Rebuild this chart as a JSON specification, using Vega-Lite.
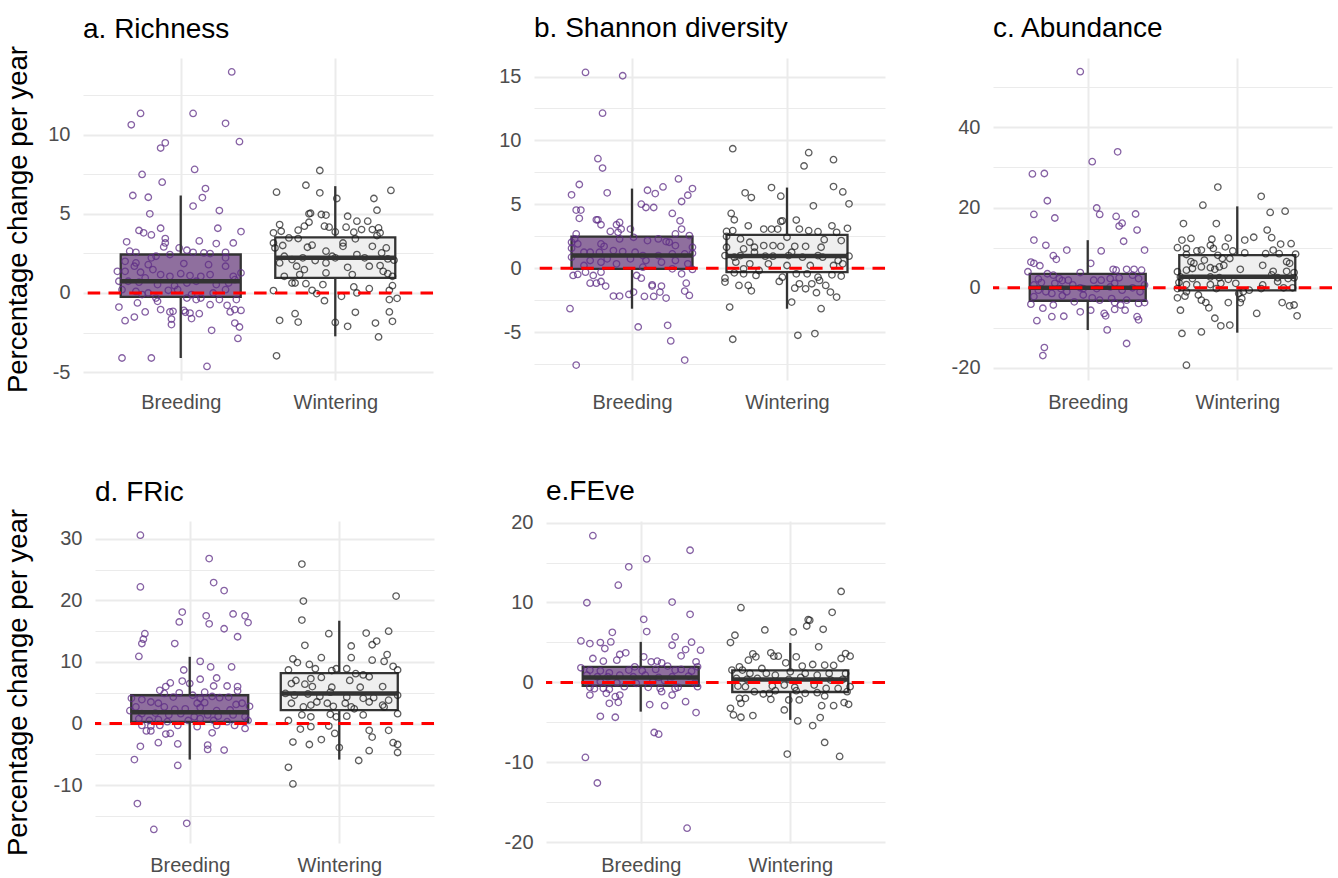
{
"$schema": "https://vega.github.io/schema/vega-lite/v6.json",
"background": "white",
"padding": {"left": 3, "top": 15, "right": 2, "bottom": 2},
"spacing": 57,
"datasets": {
"box": [
{"p":"a","g":"Breeding","x":1,"q1":-0.25,"med":0.74,"q3":2.43,"lo":-4.11,"hi":6.16},
{"p":"a","g":"Wintering","x":2,"q1":0.95,"med":2.22,"q3":3.52,"lo":-2.74,"hi":6.75},
{"p":"b","g":"Breeding","x":1,"q1":-0.05,"med":0.99,"q3":2.47,"lo":-3.17,"hi":6.23},
{"p":"b","g":"Wintering","x":2,"q1":-0.31,"med":0.96,"q3":2.6,"lo":-3.17,"hi":6.31},
{"p":"c","g":"Breeding","x":1,"q1":-3.24,"med":0.0,"q3":3.49,"lo":-10.54,"hi":11.87},
{"p":"c","g":"Wintering","x":2,"q1":-0.66,"med":2.74,"q3":8.13,"lo":-11.2,"hi":20.3},
{"p":"d","g":"Breeding","x":1,"q1":0.27,"med":1.84,"q3":4.6,"lo":-5.85,"hi":10.84},
{"p":"d","g":"Wintering","x":2,"q1":2.17,"med":4.88,"q3":8.18,"lo":-5.85,"hi":16.7},
{"p":"e","g":"Breeding","x":1,"q1":-0.42,"med":0.62,"q3":1.95,"lo":-3.66,"hi":5.07},
{"p":"e","g":"Wintering","x":2,"q1":-1.2,"med":0.37,"q3":1.5,"lo":-4.69,"hi":4.94}
],
"aB": [{"x":1.33,"y":13.97},{"x":0.74,"y":11.35},{"x":0.68,"y":10.63},{"x":1.08,"y":11.35},{"x":1.29,"y":10.72},{"x":0.90,"y":9.49},{"x":0.87,"y":9.16},{"x":1.38,"y":9.56},{"x":0.75,"y":7.49},{"x":1.09,"y":7.81},{"x":0.88,"y":7.0},{"x":0.69,"y":6.16},{"x":0.79,"y":6.05},{"x":1.16,"y":6.6},{"x":1.14,"y":6.03},{"x":0.80,"y":5.0},{"x":1.08,"y":5.49},{"x":1.25,"y":5.21},{"x":0.73,"y":3.95},{"x":0.76,"y":3.8},{"x":0.81,"y":3.67},{"x":0.87,"y":4.09},{"x":1.24,"y":4.09},{"x":1.39,"y":3.88},{"x":0.90,"y":3.44},{"x":0.90,"y":3.16},{"x":0.89,"y":2.91},{"x":0.65,"y":3.23},{"x":1.12,"y":3.29},{"x":1.23,"y":3.12},{"x":1.34,"y":3.16},{"x":0.99,"y":2.85},{"x":0.71,"y":2.57},{"x":0.67,"y":2.64},{"x":0.84,"y":2.32},{"x":0.81,"y":2.22},{"x":0.93,"y":2.43},{"x":1.04,"y":2.7},{"x":1.08,"y":2.57},{"x":1.15,"y":2.53},{"x":1.19,"y":2.49},{"x":1.29,"y":2.57},{"x":1.29,"y":2.22},{"x":0.64,"y":2.0},{"x":0.71,"y":1.9},{"x":0.79,"y":1.79},{"x":0.70,"y":1.69},{"x":1.02,"y":1.86},{"x":1.18,"y":1.79},{"x":1.29,"y":1.69},{"x":0.64,"y":1.37},{"x":0.74,"y":1.31},{"x":0.82,"y":1.48},{"x":0.87,"y":1.16},{"x":0.93,"y":1.05},{"x":1.0,"y":1.22},{"x":1.06,"y":1.10},{"x":1.13,"y":1.05},{"x":1.19,"y":1.16},{"x":1.34,"y":1.05},{"x":0.59,"y":1.37},{"x":0.60,"y":0.74},{"x":0.66,"y":0.74},{"x":0.73,"y":0.68},{"x":0.77,"y":0.95},{"x":0.85,"y":0.53},{"x":0.96,"y":0.46},{"x":1.04,"y":0.63},{"x":1.10,"y":0.74},{"x":1.23,"y":0.53},{"x":1.31,"y":0.63},{"x":1.35,"y":0.84},{"x":1.39,"y":1.27},{"x":0.62,"y":0.21},{"x":0.71,"y":0.1},{"x":0.79,"y":0.0},{"x":0.92,"y":0.17},{"x":0.98,"y":0.21},{"x":1.07,"y":-0.1},{"x":1.13,"y":-0.32},{"x":1.21,"y":0.0},{"x":1.29,"y":0.21},{"x":0.75,"y":-0.1},{"x":0.85,"y":-0.53},{"x":0.84,"y":-0.32},{"x":1.04,"y":-0.32},{"x":1.10,"y":-0.42},{"x":1.19,"y":-0.74},{"x":1.25,"y":-0.42},{"x":1.36,"y":-0.42},{"x":0.60,"y":-0.89},{"x":0.72,"y":-0.63},{"x":0.77,"y":-1.2},{"x":0.87,"y":-1.05},{"x":0.93,"y":-1.2},{"x":0.95,"y":-1.16},{"x":1.02,"y":-1.1},{"x":1.03,"y":-1.22},{"x":1.06,"y":-1.27},{"x":1.12,"y":-1.31},{"x":1.30,"y":-0.78},{"x":1.32,"y":-1.2},{"x":1.35,"y":-1.05},{"x":1.39,"y":-1.1},{"x":0.70,"y":-1.52},{"x":0.64,"y":-1.75},{"x":0.94,"y":-1.65},{"x":0.94,"y":-2.0},{"x":1.07,"y":-1.62},{"x":1.35,"y":-1.9},{"x":1.38,"y":-2.15},{"x":1.20,"y":-2.36},{"x":1.37,"y":-2.87},{"x":0.62,"y":-4.11},{"x":0.81,"y":-4.11},{"x":1.17,"y":-4.64}],
"aW": [{"x":1.90,"y":7.74},{"x":1.81,"y":6.81},{"x":1.62,"y":6.37},{"x":1.90,"y":6.33},{"x":2.36,"y":6.48},{"x":2.01,"y":5.97},{"x":2.25,"y":5.97},{"x":2.27,"y":5.23},{"x":1.83,"y":5.0},{"x":1.84,"y":5.04},{"x":1.91,"y":4.96},{"x":1.94,"y":4.92},{"x":2.08,"y":4.85},{"x":2.14,"y":4.54},{"x":2.21,"y":4.54},{"x":1.64,"y":4.32},{"x":1.83,"y":4.47},{"x":1.93,"y":4.22},{"x":1.96,"y":4.16},{"x":2.07,"y":4.16},{"x":2.28,"y":4.11},{"x":1.60,"y":3.8},{"x":1.65,"y":3.9},{"x":1.76,"y":3.97},{"x":1.80,"y":4.22},{"x":2.0,"y":3.86},{"x":2.12,"y":3.84},{"x":2.17,"y":4.01},{"x":2.24,"y":4.01},{"x":2.29,"y":3.8},{"x":1.70,"y":3.48},{"x":1.76,"y":3.44},{"x":2.05,"y":3.16},{"x":2.13,"y":3.42},{"x":2.27,"y":3.63},{"x":1.60,"y":3.16},{"x":1.61,"y":2.85},{"x":1.66,"y":3.0},{"x":1.82,"y":2.89},{"x":1.85,"y":3.02},{"x":1.94,"y":2.64},{"x":2.05,"y":2.95},{"x":2.24,"y":2.95},{"x":2.33,"y":2.85},{"x":2.30,"y":2.53},{"x":1.67,"y":2.32},{"x":1.72,"y":2.11},{"x":1.79,"y":2.22},{"x":1.87,"y":2.05},{"x":1.98,"y":2.32},{"x":2.00,"y":2.22},{"x":2.14,"y":2.43},{"x":2.19,"y":2.22},{"x":2.34,"y":2.15},{"x":2.38,"y":2.07},{"x":1.64,"y":1.9},{"x":1.75,"y":1.69},{"x":1.80,"y":1.48},{"x":1.94,"y":1.9},{"x":2.08,"y":1.62},{"x":2.22,"y":1.69},{"x":2.29,"y":1.73},{"x":2.31,"y":1.37},{"x":1.67,"y":1.05},{"x":1.72,"y":0.63},{"x":1.77,"y":1.16},{"x":1.94,"y":1.27},{"x":2.11,"y":1.16},{"x":2.34,"y":1.22},{"x":2.37,"y":1.05},{"x":1.74,"y":0.63},{"x":1.81,"y":0.59},{"x":1.92,"y":0.53},{"x":2.12,"y":0.38},{"x":2.22,"y":0.27},{"x":2.37,"y":0.46},{"x":1.60,"y":0.15},{"x":1.85,"y":0.17},{"x":1.88,"y":-0.04},{"x":2.04,"y":-0.21},{"x":2.14,"y":0.0},{"x":2.35,"y":0.17},{"x":1.93,"y":-0.49},{"x":2.35,"y":-0.42},{"x":2.40,"y":-0.34},{"x":1.74,"y":-1.31},{"x":2.13,"y":-1.22},{"x":2.35,"y":-1.2},{"x":1.64,"y":-1.73},{"x":1.76,"y":-1.84},{"x":2.0,"y":-1.86},{"x":2.26,"y":-1.9},{"x":2.37,"y":-1.79},{"x":2.08,"y":-2.11},{"x":2.28,"y":-2.78},{"x":1.62,"y":-3.97}],
"bB": [{"x":0.70,"y":15.32},{"x":0.94,"y":15.06},{"x":0.81,"y":12.13},{"x":0.78,"y":8.57},{"x":0.81,"y":7.84},{"x":0.84,"y":5.9},{"x":0.66,"y":6.55},{"x":0.61,"y":5.74},{"x":1.30,"y":6.99},{"x":1.39,"y":6.23},{"x":1.20,"y":6.36},{"x":1.10,"y":6.1},{"x":1.15,"y":5.84},{"x":1.36,"y":5.71},{"x":1.32,"y":5.22},{"x":1.06,"y":5.01},{"x":1.09,"y":4.75},{"x":1.14,"y":4.75},{"x":0.64,"y":4.55},{"x":0.67,"y":4.55},{"x":1.26,"y":4.29},{"x":0.66,"y":3.9},{"x":0.77,"y":3.79},{"x":0.78,"y":3.79},{"x":0.80,"y":3.4},{"x":0.92,"y":3.58},{"x":0.90,"y":3.4},{"x":1.31,"y":3.71},{"x":0.93,"y":3.06},{"x":0.99,"y":3.06},{"x":1.32,"y":3.06},{"x":0.86,"y":2.88},{"x":0.91,"y":2.81},{"x":1.28,"y":2.68},{"x":1.37,"y":2.55},{"x":0.64,"y":2.68},{"x":0.63,"y":2.29},{"x":0.61,"y":2.03},{"x":0.65,"y":1.9},{"x":0.80,"y":1.9},{"x":0.82,"y":1.71},{"x":0.92,"y":2.29},{"x":1.01,"y":2.42},{"x":1.10,"y":2.16},{"x":1.17,"y":2.29},{"x":1.22,"y":2.08},{"x":1.24,"y":2.03},{"x":1.28,"y":1.77},{"x":1.39,"y":1.64},{"x":0.61,"y":1.56},{"x":0.69,"y":1.25},{"x":0.73,"y":1.25},{"x":0.79,"y":1.25},{"x":0.88,"y":1.38},{"x":0.94,"y":1.3},{"x":1.02,"y":1.25},{"x":1.07,"y":0.99},{"x":1.17,"y":0.99},{"x":1.26,"y":1.12},{"x":1.34,"y":1.12},{"x":1.39,"y":1.17},{"x":0.61,"y":0.86},{"x":0.73,"y":0.6},{"x":0.80,"y":0.47},{"x":0.84,"y":0.73},{"x":0.90,"y":0.34},{"x":0.99,"y":0.73},{"x":1.09,"y":0.6},{"x":1.19,"y":0.47},{"x":1.28,"y":0.6},{"x":1.36,"y":0.34},{"x":0.69,"y":0.21},{"x":1.07,"y":0.08},{"x":1.26,"y":-0.05},{"x":1.39,"y":-0.1},{"x":0.62,"y":-0.57},{"x":0.65,"y":-0.49},{"x":0.70,"y":-0.31},{"x":0.80,"y":-0.31},{"x":0.75,"y":-0.57},{"x":1.03,"y":-0.57},{"x":1.06,"y":-0.78},{"x":1.32,"y":-0.44},{"x":0.73,"y":-1.17},{"x":0.77,"y":-1.17},{"x":0.80,"y":-1.04},{"x":0.83,"y":-1.4},{"x":1.13,"y":-1.3},{"x":1.13,"y":-1.4},{"x":1.19,"y":-1.4},{"x":1.35,"y":-1.17},{"x":1.18,"y":-1.87},{"x":1.34,"y":-1.79},{"x":1.37,"y":-2.13},{"x":0.88,"y":-2.18},{"x":0.92,"y":-2.18},{"x":0.98,"y":-2.05},{"x":1.01,"y":-1.87},{"x":1.08,"y":-2.21},{"x":1.14,"y":-2.21},{"x":1.22,"y":-2.34},{"x":0.60,"y":-3.17},{"x":1.04,"y":-4.6},{"x":1.23,"y":-4.47},{"x":1.25,"y":-5.69},{"x":1.34,"y":-7.19},{"x":0.64,"y":-7.58}],
"bW": [{"x":1.65,"y":9.35},{"x":2.14,"y":9.04},{"x":2.11,"y":8.0},{"x":2.30,"y":8.49},{"x":1.90,"y":6.31},{"x":2.30,"y":6.39},{"x":2.36,"y":5.97},{"x":1.96,"y":5.64},{"x":1.73,"y":5.9},{"x":1.77,"y":5.53},{"x":2.17,"y":4.88},{"x":2.40,"y":5.04},{"x":1.64,"y":4.29},{"x":1.66,"y":3.79},{"x":1.96,"y":3.66},{"x":1.97,"y":3.71},{"x":2.06,"y":3.77},{"x":2.29,"y":3.32},{"x":1.75,"y":3.32},{"x":1.61,"y":2.88},{"x":1.65,"y":2.94},{"x":1.85,"y":3.06},{"x":1.90,"y":3.06},{"x":1.94,"y":3.06},{"x":2.08,"y":3.06},{"x":2.14,"y":2.94},{"x":2.20,"y":2.86},{"x":2.39,"y":3.12},{"x":2.32,"y":2.81},{"x":2.0,"y":2.42},{"x":2.24,"y":2.23},{"x":2.35,"y":2.16},{"x":1.61,"y":2.49},{"x":1.70,"y":2.29},{"x":1.76,"y":2.03},{"x":1.79,"y":1.64},{"x":1.85,"y":1.77},{"x":1.91,"y":1.77},{"x":1.96,"y":1.71},{"x":2.05,"y":1.71},{"x":2.12,"y":1.71},{"x":2.22,"y":1.64},{"x":1.61,"y":1.64},{"x":1.72,"y":1.51},{"x":1.79,"y":1.25},{"x":2.03,"y":1.25},{"x":2.20,"y":0.99},{"x":2.40,"y":0.94},{"x":1.60,"y":0.99},{"x":1.66,"y":0.86},{"x":1.70,"y":0.99},{"x":1.86,"y":0.94},{"x":1.91,"y":0.94},{"x":2.01,"y":0.99},{"x":2.10,"y":0.86},{"x":2.23,"y":0.86},{"x":2.33,"y":0.6},{"x":1.67,"y":0.47},{"x":1.76,"y":0.34},{"x":1.88,"y":0.34},{"x":2.0,"y":0.21},{"x":2.15,"y":0.21},{"x":2.30,"y":0.21},{"x":2.36,"y":0.34},{"x":1.72,"y":-0.05},{"x":1.82,"y":-0.18},{"x":1.66,"y":-0.36},{"x":1.72,"y":-0.44},{"x":1.80,"y":-0.57},{"x":2.06,"y":-0.44},{"x":2.13,"y":-0.44},{"x":2.20,"y":-0.7},{"x":2.29,"y":-0.52},{"x":2.35,"y":-0.62},{"x":1.97,"y":-0.7},{"x":1.60,"y":-0.78},{"x":1.60,"y":-1.09},{"x":1.69,"y":-1.35},{"x":1.75,"y":-1.35},{"x":1.77,"y":-1.77},{"x":1.95,"y":-1.04},{"x":2.08,"y":-1.22},{"x":2.05,"y":-1.56},{"x":2.12,"y":-1.61},{"x":2.16,"y":-1.22},{"x":2.21,"y":-0.96},{"x":2.25,"y":-1.35},{"x":2.19,"y":-1.92},{"x":2.28,"y":-1.87},{"x":2.32,"y":-2.26},{"x":2.03,"y":-2.65},{"x":1.63,"y":-3.04},{"x":2.22,"y":-3.17},{"x":1.65,"y":-5.56},{"x":2.07,"y":-5.25},{"x":2.18,"y":-5.12}],
"cB": [{"x":0.95,"y":53.9},{"x":1.20,"y":33.9},{"x":1.03,"y":31.45},{"x":0.63,"y":28.4},{"x":0.71,"y":28.5},{"x":0.73,"y":21.7},{"x":0.64,"y":18.3},{"x":0.78,"y":17.4},{"x":1.06,"y":19.9},{"x":1.08,"y":18.3},{"x":1.19,"y":17.8},{"x":1.32,"y":18.4},{"x":1.23,"y":16.1},{"x":1.21,"y":15.4},{"x":1.33,"y":14.4},{"x":0.64,"y":11.9},{"x":0.72,"y":10.6},{"x":1.24,"y":11.6},{"x":0.86,"y":9.4},{"x":1.09,"y":9.2},{"x":1.38,"y":9.4},{"x":0.77,"y":8.0},{"x":0.79,"y":7.1},{"x":0.62,"y":6.4},{"x":0.64,"y":6.1},{"x":0.68,"y":5.5},{"x":0.60,"y":4.0},{"x":1.02,"y":6.1},{"x":0.95,"y":3.8},{"x":1.17,"y":4.6},{"x":1.19,"y":4.4},{"x":1.26,"y":4.6},{"x":1.31,"y":4.6},{"x":1.36,"y":4.4},{"x":0.73,"y":3.5},{"x":0.77,"y":3.15},{"x":0.81,"y":2.3},{"x":0.83,"y":1.8},{"x":0.67,"y":2.2},{"x":0.69,"y":1.3},{"x":0.64,"y":0.7},{"x":0.78,"y":1.1},{"x":0.87,"y":1.9},{"x":0.90,"y":0.7},{"x":0.95,"y":0.0},{"x":1.04,"y":1.9},{"x":1.09,"y":1.9},{"x":1.15,"y":2.3},{"x":1.21,"y":2.5},{"x":1.18,"y":1.1},{"x":1.30,"y":3.15},{"x":1.34,"y":2.3},{"x":1.38,"y":0.7},{"x":0.67,"y":-0.6},{"x":0.72,"y":-1.0},{"x":0.82,"y":-0.2},{"x":0.86,"y":-1.0},{"x":0.97,"y":-0.2},{"x":1.06,"y":-0.2},{"x":1.15,"y":0.2},{"x":1.23,"y":-0.6},{"x":1.30,"y":0.0},{"x":1.35,"y":-1.0},{"x":0.64,"y":-2.2},{"x":0.76,"y":-1.4},{"x":0.83,"y":-2.0},{"x":0.91,"y":-3.5},{"x":0.97,"y":-1.8},{"x":1.03,"y":-2.5},{"x":1.08,"y":-3.1},{"x":1.16,"y":-2.7},{"x":1.18,"y":-3.7},{"x":1.22,"y":-4.3},{"x":1.26,"y":-3.1},{"x":1.34,"y":-3.9},{"x":1.38,"y":-3.7},{"x":0.62,"y":-4.1},{"x":0.70,"y":-5.1},{"x":0.77,"y":-4.3},{"x":0.95,"y":-6.0},{"x":1.02,"y":-5.6},{"x":1.11,"y":-6.4},{"x":1.12,"y":-7.0},{"x":1.25,"y":-5.6},{"x":1.18,"y":-5.4},{"x":0.76,"y":-7.2},{"x":0.84,"y":-7.1},{"x":0.66,"y":-8.2},{"x":1.33,"y":-7.2},{"x":1.34,"y":-8.0},{"x":1.13,"y":-10.5},{"x":1.26,"y":-13.9},{"x":0.71,"y":-14.9},{"x":0.70,"y":-16.9}],
"cW": [{"x":1.66,"y":-19.3},{"x":1.87,"y":25.1},{"x":2.16,"y":22.8},{"x":1.77,"y":20.6},{"x":2.22,"y":18.8},{"x":2.32,"y":19.1},{"x":1.64,"y":16.0},{"x":1.86,"y":16.0},{"x":2.20,"y":14.4},{"x":1.63,"y":11.9},{"x":1.69,"y":12.3},{"x":1.83,"y":12.1},{"x":1.94,"y":12.4},{"x":2.05,"y":11.9},{"x":2.11,"y":12.6},{"x":2.23,"y":12.5},{"x":2.29,"y":10.9},{"x":2.36,"y":11.0},{"x":1.60,"y":10.0},{"x":1.66,"y":9.8},{"x":1.73,"y":9.2},{"x":1.76,"y":9.4},{"x":1.82,"y":10.6},{"x":1.84,"y":9.8},{"x":1.92,"y":10.2},{"x":1.97,"y":9.2},{"x":2.05,"y":8.7},{"x":2.19,"y":8.5},{"x":2.24,"y":9.4},{"x":2.28,"y":8.5},{"x":2.39,"y":8.4},{"x":1.66,"y":8.3},{"x":1.69,"y":6.5},{"x":1.71,"y":6.1},{"x":1.78,"y":6.9},{"x":1.90,"y":7.3},{"x":1.95,"y":7.3},{"x":1.87,"y":8.1},{"x":2.33,"y":6.5},{"x":2.35,"y":6.1},{"x":1.60,"y":4.0},{"x":1.66,"y":4.4},{"x":1.70,"y":4.8},{"x":1.76,"y":5.2},{"x":1.82,"y":5.0},{"x":1.85,"y":4.6},{"x":1.88,"y":5.2},{"x":1.91,"y":5.6},{"x":2.02,"y":4.6},{"x":2.17,"y":5.6},{"x":2.24,"y":4.1},{"x":2.33,"y":4.1},{"x":2.38,"y":3.8},{"x":1.62,"y":2.7},{"x":1.70,"y":2.3},{"x":1.82,"y":2.7},{"x":1.88,"y":2.5},{"x":1.94,"y":2.1},{"x":2.23,"y":3.2},{"x":2.27,"y":2.5},{"x":2.34,"y":2.3},{"x":2.38,"y":2.5},{"x":1.61,"y":1.3},{"x":1.66,"y":0.8},{"x":1.73,"y":0.7},{"x":1.82,"y":0.8},{"x":1.89,"y":1.1},{"x":1.99,"y":1.1},{"x":2.17,"y":0.7},{"x":2.27,"y":1.5},{"x":2.37,"y":0.0},{"x":1.60,"y":-0.2},{"x":1.66,"y":-1.0},{"x":1.86,"y":-0.2},{"x":2.01,"y":-1.4},{"x":2.04,"y":-1.0},{"x":2.08,"y":-0.6},{"x":2.16,"y":-0.2},{"x":2.31,"y":0.0},{"x":1.60,"y":-2.5},{"x":1.65,"y":-2.1},{"x":1.74,"y":-1.8},{"x":1.76,"y":-3.1},{"x":1.79,"y":-3.7},{"x":2.02,"y":-3.7},{"x":2.03,"y":-2.7},{"x":1.62,"y":-5.6},{"x":1.81,"y":-5.0},{"x":1.94,"y":-3.7},{"x":2.30,"y":-3.7},{"x":2.35,"y":-4.5},{"x":2.38,"y":-4.3},{"x":2.40,"y":-7.0},{"x":2.13,"y":-6.4},{"x":1.85,"y":-7.6},{"x":1.89,"y":-9.5},{"x":1.95,"y":-9.3},{"x":1.63,"y":-11.4},{"x":1.76,"y":-11.0}],
"dB": [{"x":0.67,"y":30.6},{"x":0.67,"y":22.2},{"x":1.13,"y":26.8},{"x":1.16,"y":22.9},{"x":1.23,"y":21.6},{"x":0.95,"y":18.1},{"x":0.93,"y":16.5},{"x":1.11,"y":17.5},{"x":1.13,"y":16.2},{"x":1.29,"y":17.8},{"x":1.37,"y":17.5},{"x":1.39,"y":16.4},{"x":1.23,"y":15.4},{"x":1.32,"y":14.1},{"x":0.70,"y":14.6},{"x":0.69,"y":13.7},{"x":0.68,"y":13.0},{"x":0.90,"y":13.0},{"x":0.66,"y":10.9},{"x":1.07,"y":10.1},{"x":1.14,"y":9.2},{"x":1.28,"y":9.2},{"x":0.96,"y":8.7},{"x":1.18,"y":7.4},{"x":1.07,"y":7.2},{"x":0.95,"y":6.9},{"x":1.00,"y":6.5},{"x":0.87,"y":6.6},{"x":0.84,"y":6.0},{"x":1.25,"y":6.1},{"x":1.32,"y":6.0},{"x":1.16,"y":6.1},{"x":0.80,"y":5.4},{"x":0.83,"y":4.9},{"x":0.93,"y":5.0},{"x":1.10,"y":5.1},{"x":1.32,"y":5.3},{"x":0.61,"y":4.1},{"x":0.68,"y":3.9},{"x":0.74,"y":3.5},{"x":0.89,"y":4.3},{"x":1.02,"y":4.6},{"x":1.07,"y":4.1},{"x":1.15,"y":4.4},{"x":1.20,"y":4.2},{"x":1.26,"y":4.3},{"x":1.05,"y":3.3},{"x":1.10,"y":3.4},{"x":1.31,"y":3.1},{"x":1.35,"y":3.3},{"x":1.40,"y":2.8},{"x":0.60,"y":2.1},{"x":0.64,"y":2.7},{"x":0.79,"y":3.3},{"x":0.83,"y":2.7},{"x":0.90,"y":2.3},{"x":0.97,"y":2.4},{"x":1.07,"y":2.6},{"x":1.18,"y":2.1},{"x":1.27,"y":2.2},{"x":0.68,"y":1.6},{"x":0.77,"y":1.7},{"x":0.86,"y":1.4},{"x":0.94,"y":1.6},{"x":1.03,"y":1.1},{"x":1.12,"y":1.4},{"x":1.19,"y":1.2},{"x":1.29,"y":1.4},{"x":1.37,"y":1.1},{"x":0.66,"y":0.8},{"x":0.73,"y":0.5},{"x":0.79,"y":0.65},{"x":0.85,"y":0.3},{"x":0.99,"y":0.5},{"x":1.07,"y":0.8},{"x":1.16,"y":0.5},{"x":1.25,"y":0.3},{"x":1.39,"y":0.5},{"x":0.68,"y":-0.3},{"x":0.74,"y":-0.4},{"x":0.80,"y":-0.3},{"x":0.92,"y":-0.3},{"x":1.05,"y":-0.5},{"x":1.18,"y":-0.3},{"x":1.30,"y":-0.3},{"x":1.37,"y":-0.8},{"x":0.71,"y":-1.2},{"x":0.74,"y":-1.2},{"x":0.84,"y":-1.7},{"x":0.87,"y":-1.6},{"x":1.15,"y":-1.5},{"x":0.79,"y":-3.1},{"x":0.92,"y":-3.3},{"x":0.67,"y":-3.7},{"x":1.12,"y":-3.5},{"x":1.12,"y":-4.2},{"x":1.23,"y":-4.3},{"x":0.63,"y":-5.85},{"x":0.92,"y":-6.8},{"x":0.65,"y":-13.0},{"x":0.98,"y":-16.2},{"x":0.76,"y":-17.2}],
"dW": [{"x":1.75,"y":25.9},{"x":1.76,"y":19.9},{"x":1.75,"y":16.8},{"x":2.38,"y":20.7},{"x":1.93,"y":14.6},{"x":2.18,"y":14.7},{"x":2.33,"y":15.0},{"x":2.25,"y":13.4},{"x":2.22,"y":12.8},{"x":1.77,"y":12.7},{"x":2.08,"y":12.6},{"x":2.32,"y":11.2},{"x":1.69,"y":10.5},{"x":1.88,"y":10.7},{"x":2.08,"y":10.7},{"x":2.22,"y":10.3},{"x":2.30,"y":10.1},{"x":2.36,"y":9.3},{"x":1.66,"y":8.7},{"x":1.72,"y":9.9},{"x":1.80,"y":9.6},{"x":1.84,"y":8.9},{"x":1.95,"y":8.6},{"x":1.98,"y":8.9},{"x":2.05,"y":8.9},{"x":2.11,"y":8.1},{"x":2.16,"y":7.9},{"x":2.20,"y":7.6},{"x":2.39,"y":8.7},{"x":1.71,"y":7.0},{"x":1.81,"y":7.3},{"x":1.88,"y":7.5},{"x":2.07,"y":7.0},{"x":1.68,"y":6.5},{"x":1.77,"y":6.4},{"x":1.82,"y":6.0},{"x":1.95,"y":5.9},{"x":2.14,"y":5.9},{"x":2.29,"y":6.0},{"x":1.64,"y":4.9},{"x":1.70,"y":4.6},{"x":1.79,"y":4.8},{"x":1.87,"y":4.4},{"x":1.94,"y":5.1},{"x":2.05,"y":4.3},{"x":2.16,"y":4.1},{"x":2.23,"y":4.2},{"x":2.33,"y":3.8},{"x":2.39,"y":4.6},{"x":1.68,"y":3.3},{"x":1.81,"y":3.0},{"x":1.85,"y":3.5},{"x":1.92,"y":3.3},{"x":2.04,"y":3.3},{"x":2.20,"y":3.5},{"x":2.29,"y":3.0},{"x":1.76,"y":2.7},{"x":1.96,"y":2.8},{"x":2.08,"y":2.7},{"x":2.10,"y":2.4},{"x":2.30,"y":2.7},{"x":1.75,"y":1.4},{"x":1.81,"y":1.1},{"x":1.94,"y":1.5},{"x":1.98,"y":1.1},{"x":2.05,"y":1.2},{"x":2.16,"y":1.4},{"x":2.39,"y":1.6},{"x":1.66,"y":0.5},{"x":1.93,"y":-0.4},{"x":1.74,"y":-0.9},{"x":1.81,"y":-0.5},{"x":1.97,"y":-1.6},{"x":2.20,"y":-1.1},{"x":2.33,"y":-1.1},{"x":2.22,"y":-2.2},{"x":1.88,"y":-2.6},{"x":1.69,"y":-3.0},{"x":1.80,"y":-3.4},{"x":2.0,"y":-3.9},{"x":2.36,"y":-3.1},{"x":2.39,"y":-3.4},{"x":2.39,"y":-4.7},{"x":2.20,"y":-4.4},{"x":2.13,"y":-6.0},{"x":1.66,"y":-7.1},{"x":1.69,"y":-9.8}],
"eB": [{"x":0.68,"y":18.36},{"x":1.33,"y":16.54},{"x":1.04,"y":15.45},{"x":0.92,"y":14.46},{"x":0.85,"y":12.17},{"x":0.64,"y":9.97},{"x":1.21,"y":10.05},{"x":1.33,"y":8.52},{"x":1.02,"y":7.89},{"x":1.04,"y":6.36},{"x":0.81,"y":6.27},{"x":1.23,"y":5.69},{"x":0.60,"y":5.19},{"x":0.66,"y":4.86},{"x":0.73,"y":4.99},{"x":0.80,"y":5.07},{"x":1.34,"y":5.03},{"x":1.21,"y":4.65},{"x":0.76,"y":4.24},{"x":1.30,"y":4.11},{"x":1.40,"y":4.03},{"x":0.90,"y":3.7},{"x":0.86,"y":3.49},{"x":0.84,"y":2.78},{"x":1.02,"y":3.2},{"x":1.27,"y":3.32},{"x":0.68,"y":2.99},{"x":0.75,"y":2.66},{"x":1.07,"y":2.58},{"x":1.11,"y":2.66},{"x":1.14,"y":2.45},{"x":1.37,"y":2.58},{"x":0.60,"y":1.83},{"x":0.66,"y":1.54},{"x":0.73,"y":1.45},{"x":0.79,"y":1.2},{"x":0.92,"y":1.54},{"x":0.96,"y":1.95},{"x":1.01,"y":1.45},{"x":1.10,"y":1.62},{"x":1.18,"y":2.04},{"x":1.23,"y":1.54},{"x":1.27,"y":1.62},{"x":1.34,"y":1.41},{"x":1.38,"y":1.95},{"x":0.64,"y":0.91},{"x":0.71,"y":0.71},{"x":0.78,"y":0.71},{"x":0.86,"y":0.91},{"x":0.95,"y":0.71},{"x":1.03,"y":0.91},{"x":1.12,"y":0.62},{"x":1.21,"y":0.71},{"x":1.32,"y":0.79},{"x":0.73,"y":0.08},{"x":0.84,"y":-0.04},{"x":0.97,"y":-0.12},{"x":1.08,"y":0.08},{"x":1.16,"y":0.21},{"x":1.36,"y":-0.12},{"x":0.66,"y":-0.62},{"x":0.69,"y":-0.79},{"x":0.75,"y":-0.75},{"x":0.79,"y":-0.87},{"x":0.89,"y":-0.54},{"x":1.05,"y":-0.62},{"x":1.13,"y":-0.75},{"x":1.23,"y":-0.75},{"x":1.25,"y":-0.62},{"x":1.38,"y":-0.54},{"x":0.66,"y":-1.58},{"x":0.77,"y":-1.37},{"x":0.83,"y":-1.79},{"x":0.86,"y":-1.58},{"x":1.14,"y":-1.16},{"x":1.21,"y":-1.58},{"x":0.79,"y":-2.62},{"x":0.85,"y":-2.49},{"x":1.06,"y":-2.78},{"x":1.16,"y":-2.91},{"x":1.30,"y":-2.41},{"x":0.73,"y":-4.24},{"x":0.83,"y":-4.36},{"x":1.37,"y":-3.78},{"x":1.09,"y":-6.27},{"x":1.12,"y":-6.48},{"x":0.63,"y":-9.39},{"x":0.71,"y":-12.59},{"x":1.31,"y":-18.24}],
"eW": [{"x":2.34,"y":11.38},{"x":1.67,"y":9.35},{"x":2.28,"y":8.77},{"x":2.12,"y":7.85},{"x":2.13,"y":7.77},{"x":2.11,"y":7.06},{"x":1.83,"y":6.56},{"x":2.02,"y":6.31},{"x":2.22,"y":6.65},{"x":1.63,"y":5.9},{"x":1.60,"y":4.99},{"x":2.19,"y":4.45},{"x":1.75,"y":3.57},{"x":1.77,"y":3.2},{"x":1.87,"y":3.7},{"x":1.89,"y":3.28},{"x":1.92,"y":3.28},{"x":2.04,"y":3.2},{"x":2.37,"y":3.61},{"x":2.40,"y":3.28},{"x":2.34,"y":2.99},{"x":1.72,"y":2.78},{"x":1.81,"y":1.74},{"x":1.97,"y":2.45},{"x":2.08,"y":2.04},{"x":2.15,"y":2.24},{"x":2.23,"y":2.16},{"x":2.29,"y":2.12},{"x":1.61,"y":1.54},{"x":1.66,"y":1.95},{"x":1.68,"y":1.54},{"x":1.73,"y":1.12},{"x":1.84,"y":1.12},{"x":1.90,"y":0.91},{"x":2.0,"y":1.33},{"x":2.10,"y":1.12},{"x":2.18,"y":0.91},{"x":2.26,"y":1.12},{"x":2.37,"y":1.12},{"x":1.64,"y":0.5},{"x":1.71,"y":0.37},{"x":1.78,"y":0.5},{"x":1.99,"y":0.37},{"x":2.07,"y":0.62},{"x":2.27,"y":0.29},{"x":2.35,"y":0.37},{"x":1.65,"y":-0.46},{"x":1.70,"y":-0.54},{"x":1.88,"y":-0.46},{"x":1.96,"y":-0.33},{"x":2.03,"y":-0.62},{"x":2.16,"y":-0.33},{"x":2.24,"y":-0.75},{"x":2.32,"y":-0.75},{"x":2.40,"y":-0.54},{"x":1.76,"y":-1.16},{"x":1.82,"y":-1.45},{"x":1.86,"y":-1.37},{"x":1.90,"y":-1.04},{"x":2.04,"y":-1.04},{"x":2.10,"y":-1.37},{"x":2.18,"y":-1.29},{"x":2.23,"y":-1.7},{"x":2.38,"y":-1.16},{"x":1.66,"y":-1.99},{"x":1.70,"y":-1.99},{"x":1.87,"y":-2.12},{"x":1.99,"y":-2.2},{"x":2.06,"y":-2.2},{"x":2.36,"y":-2.53},{"x":2.39,"y":-2.74},{"x":2.29,"y":-2.91},{"x":2.21,"y":-2.91},{"x":1.67,"y":-2.62},{"x":1.60,"y":-3.24},{"x":1.96,"y":-3.45},{"x":1.62,"y":-4.07},{"x":1.67,"y":-4.36},{"x":1.75,"y":-4.15},{"x":2.20,"y":-4.4},{"x":2.05,"y":-4.82},{"x":2.15,"y":-5.4},{"x":2.23,"y":-7.52},{"x":1.98,"y":-8.97},{"x":2.33,"y":-9.26}]
},
"vconcat": [
{"hconcat": [
{"width": 1, "height": 322, "data": {"values": []}, "mark": {"type": "point", "opacity": 0, "size": 0}},
{"width": 350, "height": 322, "title": {"text": "a. Richness", "offset": 1},
 "resolve": {"axis": {"y": "independent"}},
 "layer": [
  {"data": {"name": "box"}, "transform": [{"filter": "datum.p == 'a'"}],
   "mark": {"type": "bar", "orient": "vertical", "width": 120, "stroke": "#333333", "strokeWidth": 2.3},
   "encoding": {
    "x": {"field": "x", "type": "quantitative", "scale": {"domain": [0.4, 2.6], "nice": false, "zero": false}, "axis": {"values": [1, 2], "labelExpr": "datum.value == 1 ? 'Breeding' : 'Wintering'", "title": null}},
    "y": {"field": "q1", "type": "quantitative", "scale": {"domain": [-5.5, 14.85], "nice": false, "zero": false}, "axis": {"values": [-5, 0, 5, 10], "labelExpr": "datum.value + ''", "title": "Percentage change per year", "minExtent": 41, "maxExtent": 41}},
    "y2": {"field": "q3"},
    "fill": {"field": "g", "type": "nominal", "scale": {"domain": ["Breeding", "Wintering"], "range": ["#8F6F9E", "#EFEFEF"]}, "legend": null}}},
  {"data": {"name": "aB"},
   "mark": {"type": "point", "shape": "circle", "filled": false, "size": 42, "strokeWidth": 1.3, "color": "#5E2D86", "opacity": 0.75},
   "encoding": {
    "x": {"field": "x", "type": "quantitative", "scale": {"domain": [0.4, 2.6], "nice": false, "zero": false}, "axis": {"values": [1, 2], "labelExpr": "datum.value == 1 ? 'Breeding' : 'Wintering'", "title": null}},
    "y": {"field": "y", "type": "quantitative", "scale": {"domain": [-5.5, 14.85], "nice": false, "zero": false}, "axis": {"orient": "right", "values": [-2.5, 2.5, 7.5, 12.5], "labels": false, "grid": true, "gridWidth": 1, "title": null, "minExtent": 0, "maxExtent": 0}}}},
  {"data": {"name": "aW"},
   "mark": {"type": "point", "shape": "circle", "filled": false, "size": 42, "strokeWidth": 1.3, "color": "#1A1A1A", "opacity": 0.7},
   "encoding": {
    "x": {"field": "x", "type": "quantitative", "scale": {"domain": [0.4, 2.6], "nice": false, "zero": false}, "axis": {"values": [1, 2], "labelExpr": "datum.value == 1 ? 'Breeding' : 'Wintering'", "title": null}},
    "y": {"field": "y", "type": "quantitative", "scale": {"domain": [-5.5, 14.85], "nice": false, "zero": false}, "axis": null}}},
  {"data": {"name": "box"}, "transform": [{"filter": "datum.p == 'a'"}],
   "mark": {"type": "rule", "color": "#333333", "strokeWidth": 2.3},
   "encoding": {
    "x": {"field": "x", "type": "quantitative", "scale": {"domain": [0.4, 2.6], "nice": false, "zero": false}, "axis": {"values": [1, 2], "labelExpr": "datum.value == 1 ? 'Breeding' : 'Wintering'", "title": null}},
    "y": {"field": "q3", "type": "quantitative", "scale": {"domain": [-5.5, 14.85], "nice": false, "zero": false}, "axis": null},
    "y2": {"field": "hi"}}},
  {"data": {"name": "box"}, "transform": [{"filter": "datum.p == 'a'"}],
   "mark": {"type": "rule", "color": "#333333", "strokeWidth": 2.3},
   "encoding": {
    "x": {"field": "x", "type": "quantitative", "scale": {"domain": [0.4, 2.6], "nice": false, "zero": false}, "axis": {"values": [1, 2], "labelExpr": "datum.value == 1 ? 'Breeding' : 'Wintering'", "title": null}},
    "y": {"field": "lo", "type": "quantitative", "scale": {"domain": [-5.5, 14.85], "nice": false, "zero": false}, "axis": null},
    "y2": {"field": "q1"}}},
  {"data": {"name": "box"}, "transform": [{"filter": "datum.p == 'a'"}],
   "mark": {"type": "tick", "orient": "horizontal", "size": 120, "thickness": 4.5, "color": "#333333", "opacity": 1},
   "encoding": {
    "x": {"field": "x", "type": "quantitative", "scale": {"domain": [0.4, 2.6], "nice": false, "zero": false}, "axis": {"values": [1, 2], "labelExpr": "datum.value == 1 ? 'Breeding' : 'Wintering'", "title": null}},
    "y": {"field": "med", "type": "quantitative", "scale": {"domain": [-5.5, 14.85], "nice": false, "zero": false}, "axis": null}}},
  {"data": {"values": [{}]},
   "mark": {"type": "rule", "color": "#FF0000", "strokeWidth": 3, "strokeDash": [12.5, 8.3]},
   "encoding": {"y": {"datum": 0, "type": "quantitative", "scale": {"domain": [-5.5, 14.85], "nice": false, "zero": false}, "axis": null}}}
 ]},
{"width": 351, "height": 322, "title": {"text": "b. Shannon diversity", "offset": 15},
 "resolve": {"axis": {"y": "independent"}},
 "layer": [
  {"data": {"name": "box"}, "transform": [{"filter": "datum.p == 'b'"}],
   "mark": {"type": "bar", "orient": "vertical", "width": 121, "stroke": "#333333", "strokeWidth": 2.3},
   "encoding": {
    "x": {"field": "x", "type": "quantitative", "scale": {"domain": [0.4, 2.6], "nice": false, "zero": false}, "axis": {"values": [1, 2], "labelExpr": "datum.value == 1 ? 'Breeding' : 'Wintering'", "title": null}},
    "y": {"field": "q1", "type": "quantitative", "scale": {"domain": [-8.75, 16.45], "nice": false, "zero": false}, "axis": {"values": [-5, 0, 5, 10, 15], "labelExpr": "datum.value + ''", "title": null, "minExtent": 99, "maxExtent": 99}},
    "y2": {"field": "q3"},
    "fill": {"field": "g", "type": "nominal", "scale": {"domain": ["Breeding", "Wintering"], "range": ["#8F6F9E", "#EFEFEF"]}, "legend": null}}},
  {"data": {"name": "bB"},
   "mark": {"type": "point", "shape": "circle", "filled": false, "size": 42, "strokeWidth": 1.3, "color": "#5E2D86", "opacity": 0.75},
   "encoding": {
    "x": {"field": "x", "type": "quantitative", "scale": {"domain": [0.4, 2.6], "nice": false, "zero": false}, "axis": {"values": [1, 2], "labelExpr": "datum.value == 1 ? 'Breeding' : 'Wintering'", "title": null}},
    "y": {"field": "y", "type": "quantitative", "scale": {"domain": [-8.75, 16.45], "nice": false, "zero": false}, "axis": {"orient": "right", "values": [-7.5, -2.5, 2.5, 7.5, 12.5], "labels": false, "grid": true, "gridWidth": 1, "title": null, "minExtent": 0, "maxExtent": 0}}}},
  {"data": {"name": "bW"},
   "mark": {"type": "point", "shape": "circle", "filled": false, "size": 42, "strokeWidth": 1.3, "color": "#1A1A1A", "opacity": 0.7},
   "encoding": {
    "x": {"field": "x", "type": "quantitative", "scale": {"domain": [0.4, 2.6], "nice": false, "zero": false}, "axis": {"values": [1, 2], "labelExpr": "datum.value == 1 ? 'Breeding' : 'Wintering'", "title": null}},
    "y": {"field": "y", "type": "quantitative", "scale": {"domain": [-8.75, 16.45], "nice": false, "zero": false}, "axis": null}}},
  {"data": {"name": "box"}, "transform": [{"filter": "datum.p == 'b'"}],
   "mark": {"type": "rule", "color": "#333333", "strokeWidth": 2.3},
   "encoding": {
    "x": {"field": "x", "type": "quantitative", "scale": {"domain": [0.4, 2.6], "nice": false, "zero": false}, "axis": {"values": [1, 2], "labelExpr": "datum.value == 1 ? 'Breeding' : 'Wintering'", "title": null}},
    "y": {"field": "q3", "type": "quantitative", "scale": {"domain": [-8.75, 16.45], "nice": false, "zero": false}, "axis": null},
    "y2": {"field": "hi"}}},
  {"data": {"name": "box"}, "transform": [{"filter": "datum.p == 'b'"}],
   "mark": {"type": "rule", "color": "#333333", "strokeWidth": 2.3},
   "encoding": {
    "x": {"field": "x", "type": "quantitative", "scale": {"domain": [0.4, 2.6], "nice": false, "zero": false}, "axis": {"values": [1, 2], "labelExpr": "datum.value == 1 ? 'Breeding' : 'Wintering'", "title": null}},
    "y": {"field": "lo", "type": "quantitative", "scale": {"domain": [-8.75, 16.45], "nice": false, "zero": false}, "axis": null},
    "y2": {"field": "q1"}}},
  {"data": {"name": "box"}, "transform": [{"filter": "datum.p == 'b'"}],
   "mark": {"type": "tick", "orient": "horizontal", "size": 121, "thickness": 4.5, "color": "#333333", "opacity": 1},
   "encoding": {
    "x": {"field": "x", "type": "quantitative", "scale": {"domain": [0.4, 2.6], "nice": false, "zero": false}, "axis": {"values": [1, 2], "labelExpr": "datum.value == 1 ? 'Breeding' : 'Wintering'", "title": null}},
    "y": {"field": "med", "type": "quantitative", "scale": {"domain": [-8.75, 16.45], "nice": false, "zero": false}, "axis": null}}},
  {"data": {"values": [{}]},
   "mark": {"type": "rule", "color": "#FF0000", "strokeWidth": 3, "strokeDash": [12.5, 8.3]},
   "encoding": {"y": {"datum": 0, "type": "quantitative", "scale": {"domain": [-8.75, 16.45], "nice": false, "zero": false}, "axis": null}}}
 ]},
{"width": 339, "height": 322, "title": {"text": "c. Abundance", "offset": 15},
 "resolve": {"axis": {"y": "independent"}},
 "layer": [
  {"data": {"name": "box"}, "transform": [{"filter": "datum.p == 'c'"}],
   "mark": {"type": "bar", "orient": "vertical", "width": 116, "stroke": "#333333", "strokeWidth": 2.3},
   "encoding": {
    "x": {"field": "x", "type": "quantitative", "scale": {"domain": [0.4, 2.6], "nice": false, "zero": false}, "axis": {"values": [1, 2], "labelExpr": "datum.value == 1 ? 'Breeding' : 'Wintering'", "title": null}},
    "y": {"field": "q1", "type": "quantitative", "scale": {"domain": [-23, 57.3], "nice": false, "zero": false}, "axis": {"values": [-20, 0, 20, 40], "labelExpr": "datum.value + ''", "title": null, "minExtent": 106, "maxExtent": 106}},
    "y2": {"field": "q3"},
    "fill": {"field": "g", "type": "nominal", "scale": {"domain": ["Breeding", "Wintering"], "range": ["#8F6F9E", "#EFEFEF"]}, "legend": null}}},
  {"data": {"name": "cB"},
   "mark": {"type": "point", "shape": "circle", "filled": false, "size": 42, "strokeWidth": 1.3, "color": "#5E2D86", "opacity": 0.75},
   "encoding": {
    "x": {"field": "x", "type": "quantitative", "scale": {"domain": [0.4, 2.6], "nice": false, "zero": false}, "axis": {"values": [1, 2], "labelExpr": "datum.value == 1 ? 'Breeding' : 'Wintering'", "title": null}},
    "y": {"field": "y", "type": "quantitative", "scale": {"domain": [-23, 57.3], "nice": false, "zero": false}, "axis": {"orient": "right", "values": [-10, 10, 30, 50], "labels": false, "grid": true, "gridWidth": 1, "title": null, "minExtent": 0, "maxExtent": 0}}}},
  {"data": {"name": "cW"},
   "mark": {"type": "point", "shape": "circle", "filled": false, "size": 42, "strokeWidth": 1.3, "color": "#1A1A1A", "opacity": 0.7},
   "encoding": {
    "x": {"field": "x", "type": "quantitative", "scale": {"domain": [0.4, 2.6], "nice": false, "zero": false}, "axis": {"values": [1, 2], "labelExpr": "datum.value == 1 ? 'Breeding' : 'Wintering'", "title": null}},
    "y": {"field": "y", "type": "quantitative", "scale": {"domain": [-23, 57.3], "nice": false, "zero": false}, "axis": null}}},
  {"data": {"name": "box"}, "transform": [{"filter": "datum.p == 'c'"}],
   "mark": {"type": "rule", "color": "#333333", "strokeWidth": 2.3},
   "encoding": {
    "x": {"field": "x", "type": "quantitative", "scale": {"domain": [0.4, 2.6], "nice": false, "zero": false}, "axis": {"values": [1, 2], "labelExpr": "datum.value == 1 ? 'Breeding' : 'Wintering'", "title": null}},
    "y": {"field": "q3", "type": "quantitative", "scale": {"domain": [-23, 57.3], "nice": false, "zero": false}, "axis": null},
    "y2": {"field": "hi"}}},
  {"data": {"name": "box"}, "transform": [{"filter": "datum.p == 'c'"}],
   "mark": {"type": "rule", "color": "#333333", "strokeWidth": 2.3},
   "encoding": {
    "x": {"field": "x", "type": "quantitative", "scale": {"domain": [0.4, 2.6], "nice": false, "zero": false}, "axis": {"values": [1, 2], "labelExpr": "datum.value == 1 ? 'Breeding' : 'Wintering'", "title": null}},
    "y": {"field": "lo", "type": "quantitative", "scale": {"domain": [-23, 57.3], "nice": false, "zero": false}, "axis": null},
    "y2": {"field": "q1"}}},
  {"data": {"name": "box"}, "transform": [{"filter": "datum.p == 'c'"}],
   "mark": {"type": "tick", "orient": "horizontal", "size": 116, "thickness": 4.5, "color": "#333333", "opacity": 1},
   "encoding": {
    "x": {"field": "x", "type": "quantitative", "scale": {"domain": [0.4, 2.6], "nice": false, "zero": false}, "axis": {"values": [1, 2], "labelExpr": "datum.value == 1 ? 'Breeding' : 'Wintering'", "title": null}},
    "y": {"field": "med", "type": "quantitative", "scale": {"domain": [-23, 57.3], "nice": false, "zero": false}, "axis": null}}},
  {"data": {"values": [{}]},
   "mark": {"type": "rule", "color": "#FF0000", "strokeWidth": 3, "strokeDash": [12.5, 8.3]},
   "encoding": {"y": {"datum": 0, "type": "quantitative", "scale": {"domain": [-23, 57.3], "nice": false, "zero": false}, "axis": null}}}
 ]}
], "spacing": 0},
{"hconcat": [
{"width": 1, "height": 322, "data": {"values": []}, "mark": {"type": "point", "opacity": 0, "size": 0}},
{"width": 339, "height": 322, "title": {"text": "d. FRic", "offset": 1},
 "resolve": {"axis": {"y": "independent"}},
 "layer": [
  {"data": {"name": "box"}, "transform": [{"filter": "datum.p == 'd'"}],
   "mark": {"type": "bar", "orient": "vertical", "width": 117, "stroke": "#333333", "strokeWidth": 2.3},
   "encoding": {
    "x": {"field": "x", "type": "quantitative", "scale": {"domain": [0.4, 2.6], "nice": false, "zero": false}, "axis": {"values": [1, 2], "labelExpr": "datum.value == 1 ? 'Breeding' : 'Wintering'", "title": null}},
    "y": {"field": "q1", "type": "quantitative", "scale": {"domain": [-19.4, 32.9], "nice": false, "zero": false}, "axis": {"values": [-10, 0, 10, 20, 30], "labelExpr": "datum.value + ''", "title": "Percentage change per year", "minExtent": 53, "maxExtent": 53}},
    "y2": {"field": "q3"},
    "fill": {"field": "g", "type": "nominal", "scale": {"domain": ["Breeding", "Wintering"], "range": ["#8F6F9E", "#EFEFEF"]}, "legend": null}}},
  {"data": {"name": "dB"},
   "mark": {"type": "point", "shape": "circle", "filled": false, "size": 42, "strokeWidth": 1.3, "color": "#5E2D86", "opacity": 0.75},
   "encoding": {
    "x": {"field": "x", "type": "quantitative", "scale": {"domain": [0.4, 2.6], "nice": false, "zero": false}, "axis": {"values": [1, 2], "labelExpr": "datum.value == 1 ? 'Breeding' : 'Wintering'", "title": null}},
    "y": {"field": "y", "type": "quantitative", "scale": {"domain": [-19.4, 32.9], "nice": false, "zero": false}, "axis": {"orient": "right", "values": [-15, -5, 5, 15, 25], "labels": false, "grid": true, "gridWidth": 1, "title": null, "minExtent": 0, "maxExtent": 0}}}},
  {"data": {"name": "dW"},
   "mark": {"type": "point", "shape": "circle", "filled": false, "size": 42, "strokeWidth": 1.3, "color": "#1A1A1A", "opacity": 0.7},
   "encoding": {
    "x": {"field": "x", "type": "quantitative", "scale": {"domain": [0.4, 2.6], "nice": false, "zero": false}, "axis": {"values": [1, 2], "labelExpr": "datum.value == 1 ? 'Breeding' : 'Wintering'", "title": null}},
    "y": {"field": "y", "type": "quantitative", "scale": {"domain": [-19.4, 32.9], "nice": false, "zero": false}, "axis": null}}},
  {"data": {"name": "box"}, "transform": [{"filter": "datum.p == 'd'"}],
   "mark": {"type": "rule", "color": "#333333", "strokeWidth": 2.3},
   "encoding": {
    "x": {"field": "x", "type": "quantitative", "scale": {"domain": [0.4, 2.6], "nice": false, "zero": false}, "axis": {"values": [1, 2], "labelExpr": "datum.value == 1 ? 'Breeding' : 'Wintering'", "title": null}},
    "y": {"field": "q3", "type": "quantitative", "scale": {"domain": [-19.4, 32.9], "nice": false, "zero": false}, "axis": null},
    "y2": {"field": "hi"}}},
  {"data": {"name": "box"}, "transform": [{"filter": "datum.p == 'd'"}],
   "mark": {"type": "rule", "color": "#333333", "strokeWidth": 2.3},
   "encoding": {
    "x": {"field": "x", "type": "quantitative", "scale": {"domain": [0.4, 2.6], "nice": false, "zero": false}, "axis": {"values": [1, 2], "labelExpr": "datum.value == 1 ? 'Breeding' : 'Wintering'", "title": null}},
    "y": {"field": "lo", "type": "quantitative", "scale": {"domain": [-19.4, 32.9], "nice": false, "zero": false}, "axis": null},
    "y2": {"field": "q1"}}},
  {"data": {"name": "box"}, "transform": [{"filter": "datum.p == 'd'"}],
   "mark": {"type": "tick", "orient": "horizontal", "size": 117, "thickness": 4.5, "color": "#333333", "opacity": 1},
   "encoding": {
    "x": {"field": "x", "type": "quantitative", "scale": {"domain": [0.4, 2.6], "nice": false, "zero": false}, "axis": {"values": [1, 2], "labelExpr": "datum.value == 1 ? 'Breeding' : 'Wintering'", "title": null}},
    "y": {"field": "med", "type": "quantitative", "scale": {"domain": [-19.4, 32.9], "nice": false, "zero": false}, "axis": null}}},
  {"data": {"values": [{}]},
   "mark": {"type": "rule", "color": "#FF0000", "strokeWidth": 3, "strokeDash": [12.5, 8.3]},
   "encoding": {"y": {"datum": 0, "type": "quantitative", "scale": {"domain": [-19.4, 32.9], "nice": false, "zero": false}, "axis": null}}}
 ]},
{"width": 339, "height": 322, "title": {"text": "e.FEve", "offset": 7},
 "resolve": {"axis": {"y": "independent"}},
 "layer": [
  {"data": {"name": "box"}, "transform": [{"filter": "datum.p == 'e'"}],
   "mark": {"type": "bar", "orient": "vertical", "width": 116, "stroke": "#333333", "strokeWidth": 2.3},
   "encoding": {
    "x": {"field": "x", "type": "quantitative", "scale": {"domain": [0.4, 2.6], "nice": false, "zero": false}, "axis": {"values": [1, 2], "labelExpr": "datum.value == 1 ? 'Breeding' : 'Wintering'", "title": null}},
    "y": {"field": "q1", "type": "quantitative", "scale": {"domain": [-20.1, 20.2], "nice": false, "zero": false}, "axis": {"values": [-20, -10, 0, 10, 20], "labelExpr": "datum.value + ''", "title": null, "minExtent": 110, "maxExtent": 110}},
    "y2": {"field": "q3"},
    "fill": {"field": "g", "type": "nominal", "scale": {"domain": ["Breeding", "Wintering"], "range": ["#8F6F9E", "#EFEFEF"]}, "legend": null}}},
  {"data": {"name": "eB"},
   "mark": {"type": "point", "shape": "circle", "filled": false, "size": 42, "strokeWidth": 1.3, "color": "#5E2D86", "opacity": 0.75},
   "encoding": {
    "x": {"field": "x", "type": "quantitative", "scale": {"domain": [0.4, 2.6], "nice": false, "zero": false}, "axis": {"values": [1, 2], "labelExpr": "datum.value == 1 ? 'Breeding' : 'Wintering'", "title": null}},
    "y": {"field": "y", "type": "quantitative", "scale": {"domain": [-20.1, 20.2], "nice": false, "zero": false}, "axis": {"orient": "right", "values": [-15, -5, 5, 15], "labels": false, "grid": true, "gridWidth": 1, "title": null, "minExtent": 0, "maxExtent": 0}}}},
  {"data": {"name": "eW"},
   "mark": {"type": "point", "shape": "circle", "filled": false, "size": 42, "strokeWidth": 1.3, "color": "#1A1A1A", "opacity": 0.7},
   "encoding": {
    "x": {"field": "x", "type": "quantitative", "scale": {"domain": [0.4, 2.6], "nice": false, "zero": false}, "axis": {"values": [1, 2], "labelExpr": "datum.value == 1 ? 'Breeding' : 'Wintering'", "title": null}},
    "y": {"field": "y", "type": "quantitative", "scale": {"domain": [-20.1, 20.2], "nice": false, "zero": false}, "axis": null}}},
  {"data": {"name": "box"}, "transform": [{"filter": "datum.p == 'e'"}],
   "mark": {"type": "rule", "color": "#333333", "strokeWidth": 2.3},
   "encoding": {
    "x": {"field": "x", "type": "quantitative", "scale": {"domain": [0.4, 2.6], "nice": false, "zero": false}, "axis": {"values": [1, 2], "labelExpr": "datum.value == 1 ? 'Breeding' : 'Wintering'", "title": null}},
    "y": {"field": "q3", "type": "quantitative", "scale": {"domain": [-20.1, 20.2], "nice": false, "zero": false}, "axis": null},
    "y2": {"field": "hi"}}},
  {"data": {"name": "box"}, "transform": [{"filter": "datum.p == 'e'"}],
   "mark": {"type": "rule", "color": "#333333", "strokeWidth": 2.3},
   "encoding": {
    "x": {"field": "x", "type": "quantitative", "scale": {"domain": [0.4, 2.6], "nice": false, "zero": false}, "axis": {"values": [1, 2], "labelExpr": "datum.value == 1 ? 'Breeding' : 'Wintering'", "title": null}},
    "y": {"field": "lo", "type": "quantitative", "scale": {"domain": [-20.1, 20.2], "nice": false, "zero": false}, "axis": null},
    "y2": {"field": "q1"}}},
  {"data": {"name": "box"}, "transform": [{"filter": "datum.p == 'e'"}],
   "mark": {"type": "tick", "orient": "horizontal", "size": 116, "thickness": 4.5, "color": "#333333", "opacity": 1},
   "encoding": {
    "x": {"field": "x", "type": "quantitative", "scale": {"domain": [0.4, 2.6], "nice": false, "zero": false}, "axis": {"values": [1, 2], "labelExpr": "datum.value == 1 ? 'Breeding' : 'Wintering'", "title": null}},
    "y": {"field": "med", "type": "quantitative", "scale": {"domain": [-20.1, 20.2], "nice": false, "zero": false}, "axis": null}}},
  {"data": {"values": [{}]},
   "mark": {"type": "rule", "color": "#FF0000", "strokeWidth": 3, "strokeDash": [12.5, 8.3]},
   "encoding": {"y": {"datum": 0, "type": "quantitative", "scale": {"domain": [-20.1, 20.2], "nice": false, "zero": false}, "axis": null}}}
 ]}
], "spacing": 0}
],
"config": {
 "view": {"stroke": null},
 "font": "Liberation Sans",
 "axis": {"domain": false, "ticks": false, "tickSize": 0, "labelFontSize": 20, "labelColor": "#4D4D4D", "labelFont": "Liberation Sans", "labelOverlap": false, "labelFlush": false, "gridColor": "#EBEBEB", "gridWidth": 2, "titleFontSize": 27.5, "titleColor": "#000000", "titleFontWeight": "normal", "titleFont": "Liberation Sans", "titlePadding": 10},
 "axisX": {"labelPadding": 12, "minExtent": 40, "maxExtent": 40},
 "axisY": {"labelPadding": 13},
 "title": {"fontSize": 28, "fontWeight": "normal", "anchor": "start", "frame": "group", "color": "#000000", "baseline": "alphabetic", "font": "Liberation Sans"}
}
}
